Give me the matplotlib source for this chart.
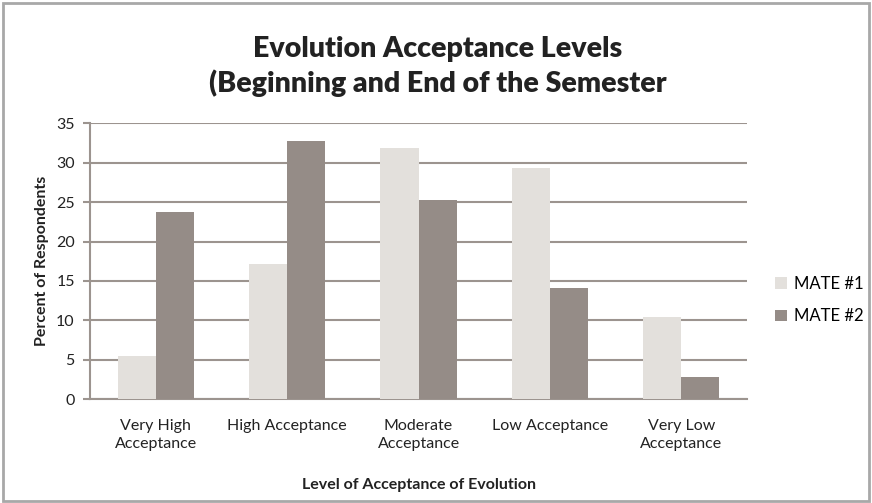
import numpy as np
import matplotlib.pyplot as plt
from matplotlib.patches import Rectangle

categories = ['Very High\nAcceptance', 'High Acceptance', 'Moderate\nAcceptance',
              'Low Acceptance', 'Very Low\nAcceptance']
mate1 = [5.5, 17.2, 31.9, 29.3, 10.4]
mate2 = [23.7, 32.8, 25.3, 14.1, 2.8]
series_names = ['MATE #1', 'MATE #2']

plt.rcParams['font.family'] = ['Lato', 'DejaVu Sans']

fig = plt.figure(figsize=(8.72, 5.03), dpi=100)
ax = fig.add_axes([0.1032, 0.2062, 0.7535, 0.5487])

x = np.arange(len(categories))
w = 0.29
grid_col = '#9c948f'
ax.bar(x - w / 2, mate1, w, color='#e3e0dc', label=series_names[0], zorder=3)
ax.bar(x + w / 2, mate2, w, color='#958c87', label=series_names[1], zorder=3)

ax.set_xlim(-0.5, len(categories) - 0.5)
ax.set_ylim(0, 35)
ax.set_yticks(range(0, 36, 5))
ax.yaxis.grid(True, color=grid_col, linewidth=1.5, zorder=0)
ax.set_xticks(x)
ax.set_xticklabels(categories, fontsize=11.5, color='#222222', linespacing=1.35)
ax.tick_params(axis='x', length=0, pad=14)
ax.tick_params(axis='y', length=5, width=1.5, color=grid_col, labelsize=11.5,
               labelcolor='#222222', pad=6)
for s in ['top', 'right']:
    ax.spines[s].set_visible(False)
for s in ['left', 'bottom']:
    ax.spines[s].set_color(grid_col)
    ax.spines[s].set_linewidth(1.5)

ax.set_ylabel('Percent of Respondents', fontsize=11.5, fontweight='bold',
              color='#222222', labelpad=5)
ax.set_xlabel('Level of Acceptance of Evolution', fontsize=11.5, fontweight='bold',
              color='#222222', labelpad=20)

fig.text(0.502, 0.868, 'Evolution Acceptance Levels\n(Beginning and End of the Semester',
         ha='center', va='center', fontsize=20.5, fontweight='heavy', color='#222222',
         linespacing=1.3)

ax.legend(loc='center left', bbox_to_anchor=(1.02, 0.36), frameon=False,
          fontsize=12, handlelength=0.7, handleheight=0.7, labelspacing=1.0,
          handletextpad=0.4)

fig.patches.append(Rectangle((0.004, 0.004), 0.992, 0.99, transform=fig.transFigure,
                             fill=False, edgecolor='#a8a8a8', linewidth=2))

fig.savefig('out.png', dpi=100)
